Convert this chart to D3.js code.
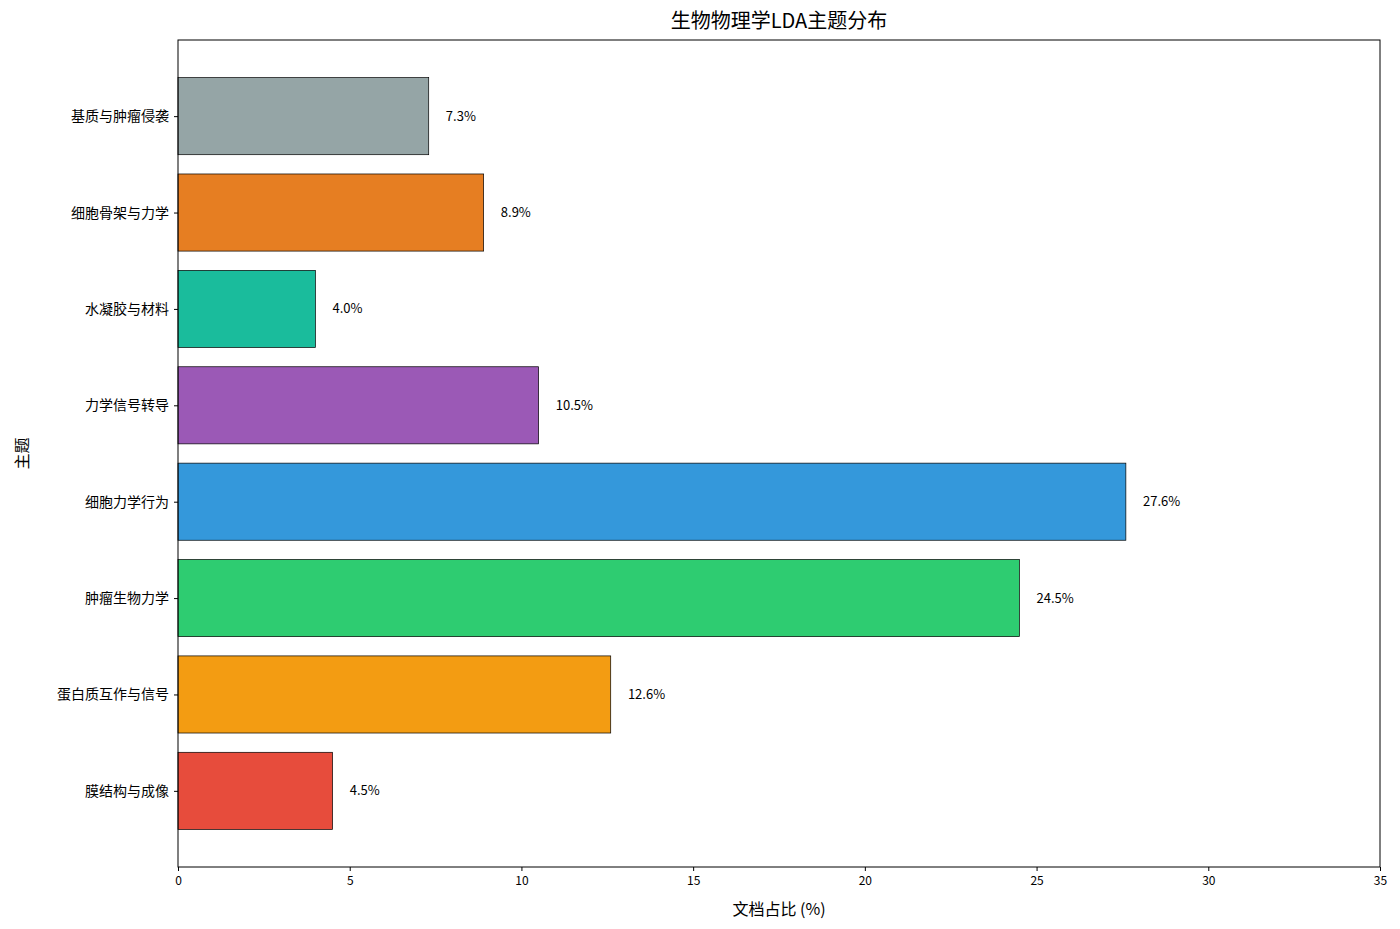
<!DOCTYPE html>
<html><head><meta charset="utf-8">
<script src="https://cdn.jsdelivr.net/npm/d3@7"></script>
<style>body{margin:0;background:#fff;font-family:"Noto Sans CJK SC",sans-serif;}</style>
</head><body>
<svg id="c" width="1400" height="929"></svg>
<script>
const categories = ["膜结构与成像","蛋白质互作与信号","肿瘤生物力学","细胞力学行为","力学信号转导","水凝胶与材料","细胞骨架与力学","基质与肿瘤侵袭"];
const values = [4.5,12.6,24.5,27.6,10.5,4.0,8.9,7.3];
const colors = ["#e74c3c","#f39c12","#2ecc71","#3498db","#9b59b6","#1abc9c","#e67e22","#95a5a6"];
const xTicks = [0,5,10,15,20,25,30,35];

const svg = d3.select("#c");
const L=178,R=1380,T=40,B=867;
const x = d3.scaleLinear().domain([0,35]).range([L,R]);
const y = d3.scaleLinear().domain([-0.79,7.79]).range([B,T]);
const step = y(0)-y(1), bh = step*0.8;

svg.selectAll("rect.bar").data(values).enter().append("rect")
  .attr("x",x(0)).attr("y",(d,i)=>y(i)-bh/2).attr("width",d=>x(d)-x(0)).attr("height",bh)
  .attr("fill",(d,i)=>colors[i]).attr("stroke","#000").attr("stroke-width",0.7);
svg.selectAll("text.val").data(values).enter().append("text")
  .attr("x",d=>x(d+0.5)).attr("y",(d,i)=>y(i)).attr("dy","0.35em")
  .attr("font-size",13).text(d=>d.toFixed(1)+"%");

svg.append("rect").attr("x",L).attr("y",T).attr("width",R-L).attr("height",B-T)
  .attr("fill","none").attr("stroke","#000").attr("stroke-width",1);

const xa = svg.append("g").attr("transform",`translate(0,${B})`)
  .call(d3.axisBottom(x).tickValues(xTicks).tickSize(4).tickPadding(5));
xa.select(".domain").remove();
xa.selectAll("text").attr("font-size",12).attr("font-family","Noto Sans CJK SC");
const ya = svg.append("g").attr("transform",`translate(${L},0)`)
  .call(d3.axisLeft(y).tickValues(d3.range(categories.length)).tickFormat(i=>categories[i]).tickSize(4).tickPadding(5));
ya.select(".domain").remove();
ya.selectAll("text").attr("font-size",14).attr("font-family","Noto Sans CJK SC");

svg.append("text").attr("x",(L+R)/2).attr("y",28).attr("text-anchor","middle").attr("font-size",20).text("生物物理学LDA主题分布");
svg.append("text").attr("x",(L+R)/2).attr("y",915).attr("text-anchor","middle").attr("font-size",16).text("文档占比 (%)");
svg.append("text").attr("transform",`translate(28,${(T+B)/2}) rotate(-90)`).attr("text-anchor","middle").attr("font-size",16).text("主题");
</script></body></html>
